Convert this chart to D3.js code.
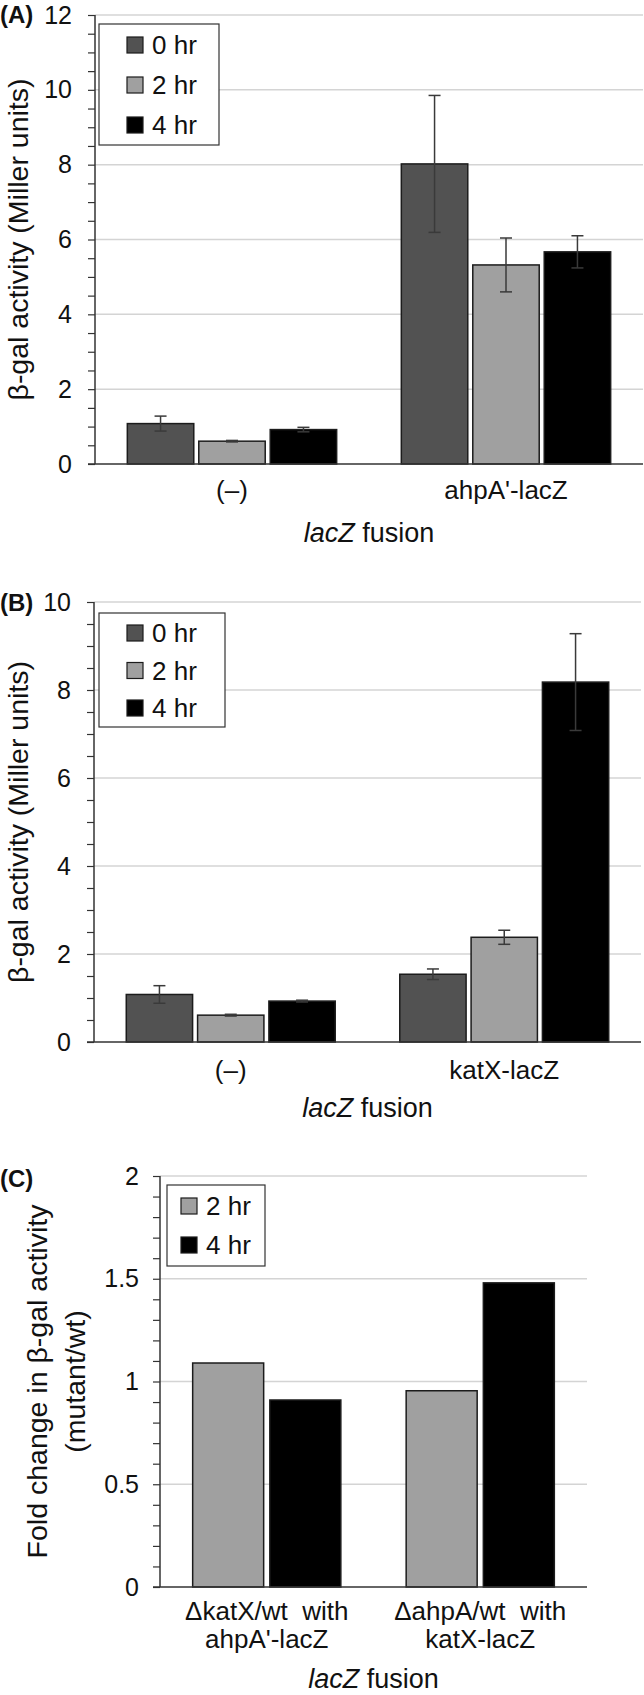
<!DOCTYPE html>
<html>
<head>
<meta charset="utf-8">
<script src="https://cdn.jsdelivr.net/npm/d3@7"></script>
<style>
  body { margin: 0; background: #fff; }
  svg text { font-family: "Liberation Sans", Arial, sans-serif; fill: #111; }
</style>
</head>
<body>
<div id="vis"></div>
<script>
// ---- data ----
const seriesABLabels = ['0 hr', '2 hr', '4 hr'];
const seriesCLabels = ['2 hr', '4 hr'];

const panelACategories = ['(–)', "ahpA'-lacZ"];
const panelA0hr = [1.08, 8.02];
const panelA2hr = [0.61, 5.32];
const panelA4hr = [0.92, 5.67];
const panelA0hrErr = [0.20, 1.83];
const panelA2hrErr = [0.02, 0.72];
const panelA4hrErr = [0.06, 0.43];
const panelATicks = [0, 2, 4, 6, 8, 10, 12];

const panelBCategories = ['(–)', 'katX-lacZ'];
const panelB0hr = [1.08, 1.54];
const panelB2hr = [0.61, 2.38];
const panelB4hr = [0.93, 8.18];
const panelB0hrErr = [0.20, 0.12];
const panelB2hrErr = [0.02, 0.16];
const panelB4hrErr = [0.02, 1.10];
const panelBTicks = [0, 2, 4, 6, 8, 10];

const panelCCategories = [['ΔkatX/wt  with', "ahpA'-lacZ"], ['ΔahpA/wt  with', 'katX-lacZ']];
const panelC2hr = [1.09, 0.955];
const panelC4hr = [0.91, 1.48];
const panelCTicks = [0, 0.5, 1, 1.5, 2];

const colors = {'0 hr': '#525252', '2 hr': '#a0a0a0', '4 hr': '#000000'};

let svg = d3.select('#vis')
    .append('svg')
    .attr('width', 644)
    .attr('height', 1695);

function drawPanel(p) {
    let g = svg.append('g');

    let y = d3.scaleLinear()
        .domain([0, d3.max(p.ticks)])
        .range([p.bottom, p.top]);

    let x0 = d3.scaleBand()
        .domain(d3.range(p.categories.length))
        .range([p.left, p.right]);

    let bw = x0.bandwidth();
    let x1 = d3.scaleBand()
        .domain(p.series)
        .range([bw * p.groupPad, bw * (1 - p.groupPad)])
        .paddingInner(p.barPad);

    // gridlines
    g.append('g')
        .selectAll('line')
        .data(p.ticks.filter(t => t > 0))
        .enter()
        .append('line')
        .attr('x1', p.left)
        .attr('x2', p.gridRight)
        .attr('y1', d => y(d))
        .attr('y2', d => y(d))
        .attr('stroke', '#d4d4d4')
        .attr('stroke-width', 1.5);

    // y axis with minor ticks
    let minor = d3.range(0, d3.max(p.ticks) + p.minorStep / 2, p.minorStep);
    let yAxis = d3.axisLeft(y)
        .tickValues(minor)
        .tickSize(7)
        .tickPadding(p.tickPad)
        .tickFormat(d => p.ticks.some(t => Math.abs(t - d) < 1e-9) ? d3.format('~g')(d) : '');

    let ya = g.append('g')
        .attr('transform', 'translate(' + p.left + ',0)')
        .call(yAxis);
    ya.select('.domain').remove();
    ya.selectAll('.tick line').attr('stroke', '#333').attr('stroke-width', 1.2);
    ya.selectAll('.tick text')
        .attr('font-size', 25)
        .attr('font-family', '"Liberation Sans", Arial, sans-serif')
        .attr('fill', '#111');
    g.append('line')
        .attr('x1', p.left).attr('x2', p.left)
        .attr('y1', p.top).attr('y2', p.bottom)
        .attr('stroke', '#333').attr('stroke-width', 1.5);

    // bars
    let rows = [];
    p.categories.forEach((c, i) => {
        p.series.forEach((s, k) => {
            rows.push({cat: i, s: s, v: p.values[k][i], e: p.errors ? p.errors[k][i] : null});
        });
    });

    let bar = g.selectAll('g.bar')
        .data(rows)
        .enter()
        .append('g')
        .attr('class', 'bar');

    bar.append('rect')
        .attr('x', d => x0(d.cat) + x1(d.s))
        .attr('y', d => y(d.v))
        .attr('width', x1.bandwidth())
        .attr('height', d => y(0) - y(d.v))
        .attr('fill', d => colors[d.s])
        .attr('stroke', '#1c1c1c')
        .attr('stroke-width', 1.5);

    // error bars
    let eb = bar.filter(d => d.e !== null).append('g')
        .attr('stroke', '#3a3a3a')
        .attr('stroke-width', 1.5);
    let cx = d => x0(d.cat) + x1(d.s) + x1.bandwidth() / 2;
    eb.append('line')
        .attr('x1', cx).attr('x2', cx)
        .attr('y1', d => y(d.v + d.e)).attr('y2', d => y(d.v - d.e));
    eb.append('line')
        .attr('x1', d => cx(d) - 6).attr('x2', d => cx(d) + 6)
        .attr('y1', d => y(d.v + d.e)).attr('y2', d => y(d.v + d.e));
    eb.append('line')
        .attr('x1', d => cx(d) - 6).attr('x2', d => cx(d) + 6)
        .attr('y1', d => y(d.v - d.e)).attr('y2', d => y(d.v - d.e));

    // x axis line
    g.append('line')
        .attr('x1', p.left - 7).attr('x2', p.right)
        .attr('y1', y(0)).attr('y2', y(0))
        .attr('stroke', '#333').attr('stroke-width', 1.5);

    // category labels
    let cl = g.selectAll('text.cat')
        .data(p.categories)
        .enter()
        .append('text')
        .attr('class', 'cat')
        .attr('text-anchor', 'middle')
        .attr('font-size', 26)
        .attr('x', (d, i) => x0(i) + bw / 2)
        .attr('y', p.catY);
    cl.each(function(d) {
        let lines = Array.isArray(d) ? d : [d];
        let t = d3.select(this);
        lines.forEach((l, j) => {
            t.append('tspan')
                .attr('x', t.attr('x'))
                .attr('dy', j === 0 ? 0 : p.catLine)
                .attr('xml:space', 'preserve')
                .text(l);
        });
    });

    // x title
    let xt = g.append('text')
        .attr('text-anchor', 'middle')
        .attr('font-size', 27)
        .attr('x', (p.left + p.right) / 2)
        .attr('y', p.titleY);
    xt.append('tspan').attr('font-style', 'italic').text('lacZ');
    xt.append('tspan').text(' fusion');

    // y title
    p.yTitle.forEach((l, j) => {
        g.append('text')
            .attr('text-anchor', 'middle')
            .attr('font-size', 28.5)
            .attr('transform', 'translate(' + p.yTitleX[j] + ',' + (p.top + p.bottom) / 2 + ') rotate(-90)')
            .attr('dy', '0.35em')
            .text(l);
    });

    // panel letter
    g.append('text')
        .attr('x', 0)
        .attr('y', p.letterY)
        .attr('font-size', 24)
        .attr('font-weight', 'bold')
        .text(p.letter);

    // legend
    let lg = g.append('g');
    lg.append('rect')
        .attr('x', p.legend.x).attr('y', p.legend.y)
        .attr('width', p.legend.w).attr('height', p.legend.h)
        .attr('fill', '#fff')
        .attr('stroke', '#333')
        .attr('stroke-width', 1.2);
    let li = lg.selectAll('g.item')
        .data(p.series)
        .enter()
        .append('g')
        .attr('transform', (d, i) => 'translate(' + (p.legend.x + p.legend.sw) + ',' + (p.legend.first + i * p.legend.step) + ')');
    li.append('rect')
        .attr('x', 0).attr('y', -8)
        .attr('width', 16).attr('height', 16)
        .attr('fill', d => colors[d])
        .attr('stroke', '#1c1c1c')
        .attr('stroke-width', 1.2);
    li.append('text')
        .attr('x', 25)
        .attr('y', 0)
        .attr('dy', '0.36em')
        .attr('font-size', 26)
        .text(d => d);
}

drawPanel({
    letter: '(A)', letterY: 23,
    categories: panelACategories, series: seriesABLabels,
    values: [panelA0hr, panelA2hr, panelA4hr],
    errors: [panelA0hrErr, panelA2hrErr, panelA4hrErr],
    ticks: panelATicks, minorStep: 0.5, tickPad: 16,
    left: 95, right: 643, gridRight: 643, top: 15, bottom: 464,
    groupPad: 0.118, barPad: 0.07,
    catY: 499, catLine: 0, titleY: 542,
    yTitle: ['β-gal activity (Miller units)'], yTitleX: [18],
    legend: {x: 99, y: 24, w: 120, h: 121, sw: 28, first: 45, step: 40}
});

drawPanel({
    letter: '(B)', letterY: 611,
    categories: panelBCategories, series: seriesABLabels,
    values: [panelB0hr, panelB2hr, panelB4hr],
    errors: [panelB0hrErr, panelB2hrErr, panelB4hrErr],
    ticks: panelBTicks, minorStep: 0.5, tickPad: 16,
    left: 94, right: 641, gridRight: 641, top: 602, bottom: 1042,
    groupPad: 0.118, barPad: 0.07,
    catY: 1079, catLine: 0, titleY: 1117,
    yTitle: ['β-gal activity (Miller units)'], yTitleX: [18],
    legend: {x: 99, y: 613, w: 126, h: 114, sw: 28, first: 633, step: 37.5}
});

drawPanel({
    letter: '(C)', letterY: 1187,
    categories: panelCCategories, series: seriesCLabels,
    values: [panelC2hr, panelC4hr],
    errors: null,
    ticks: panelCTicks, minorStep: 0.1, tickPad: 14,
    left: 160, right: 587, gridRight: 587, top: 1176, bottom: 1587,
    groupPad: 0.153, barPad: 0.08,
    catY: 1620, catLine: 28, titleY: 1688,
    yTitle: ['Fold change in β-gal activity', '(mutant/wt)'], yTitleX: [37, 75],
    legend: {x: 167, y: 1185, w: 98, h: 81, sw: 14, first: 1206, step: 39}
});
</script>
</body>
</html>
